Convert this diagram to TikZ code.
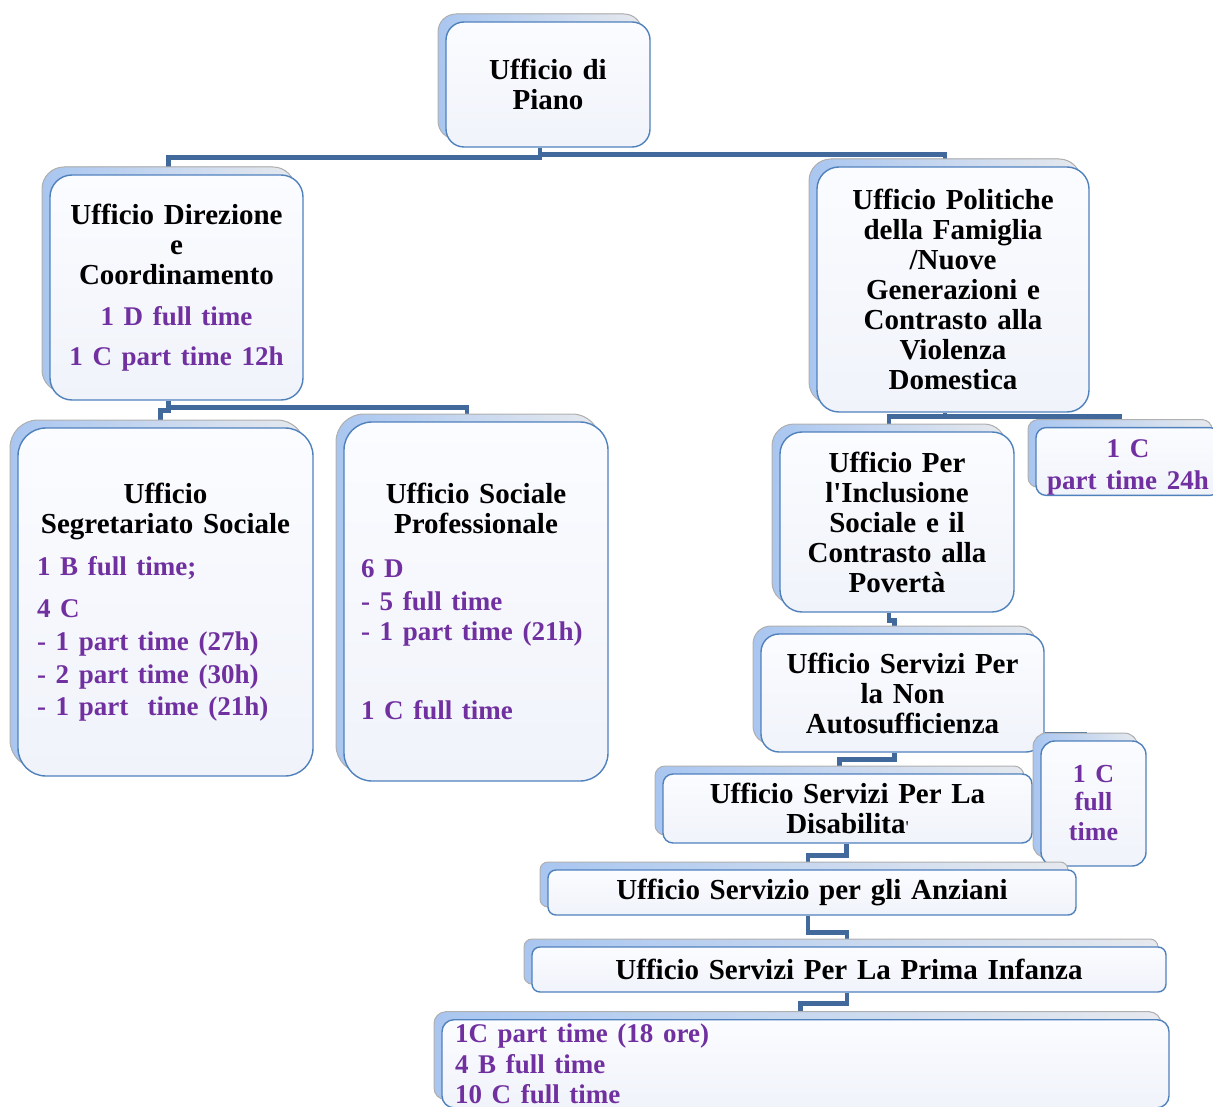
\documentclass[tikz,border=0pt]{standalone}
\usepackage{fontspec}
\setmainfont{Liberation Serif}
\usetikzlibrary{shadows,backgrounds}
\setlength{\parindent}{0pt}

\definecolor{cardedge}{HTML}{4F81BD}
\definecolor{cardtop}{HTML}{FBFCFF}
\definecolor{cardbottom}{HTML}{F0F3FA}
\definecolor{backblue}{HTML}{A9C6F0}
\definecolor{backgrey}{HTML}{E6E9EE}
\definecolor{backedge}{HTML}{B0B0B0}
\definecolor{linkblue}{HTML}{41699B}
\definecolor{staffviolet}{HTML}{7030A0}

\newcommand{\staff}{\color{staffviolet}\fontsize{27}{30}\selectfont}

\tikzset{
  ufficio/.style={draw=cardedge, line width=1.4pt, rounded corners=#1,
    top color=cardtop, bottom color=cardbottom, inner sep=0pt,
    copy shadow={shadow xshift=-8pt, shadow yshift=8pt, left color=backblue,
      right color=backgrey, draw=backedge, line width=1pt}},
  ufficio/.default=20pt,
  link/.style={draw=linkblue, line width=4.5pt}
}

\begin{document}
\begin{tikzpicture}[x=1pt, y=-1pt,
  every node/.style={font=\bfseries\fontsize{29}{30}\selectfont}
]
\useasboundingbox (0,0) rectangle (1213,1107);

% top and first level:
\node[ufficio=18pt, minimum width=204pt, minimum height=125pt, text width=180pt, align=center] (piano) at (548,84.5) {Ufficio di\\Piano};
\node[ufficio=22pt, minimum width=253pt, minimum height=225pt, text width=240pt, align=center] (direz) at (176.5,287.5)
  {Ufficio Direzione\\e\\Coordinamento\\[11pt]{\staff 1 D full time\\[10pt]1 C part time 12h}};
\node[ufficio=22pt, minimum width=272pt, minimum height=245pt, text width=250pt, align=center] (polit) at (953,289.5)
  {Ufficio Politiche\\della Famiglia\\/Nuove\\Generazioni e\\Contrasto alla\\Violenza\\Domestica};

% left branch
\node[ufficio=28pt, minimum width=295pt, minimum height=348pt, text width=257pt] (segr) at (165.5,602)
  {{\centering Ufficio\\Segretariato Sociale\par}\vspace{12pt}
   {\staff 1 B full time;\\[12pt]4 C\\[3pt]- 1 part time (27h)\\[3pt]- 2 part time (30h)\\[2pt]- 1 part\ \ time (21h)\par}};
\node[ufficio=28pt, minimum width=264pt, minimum height=359pt, text width=230pt] (socprof) at (476,601.5)
  {{\centering Ufficio Sociale\\Professionale\par}\vspace{14pt}
   {\staff 6 D\\[3pt]- 5 full time\\- 1 part time (21h)\\[49pt]1 C full time\par}};

% right branch
\node[ufficio=22pt, minimum width=234pt, minimum height=180pt, text width=220pt, align=center] (incl) at (897,522)
  {Ufficio Per\\l\textquotesingle Inclusione\\Sociale e il\\Contrasto alla\\Povert\`a};
\node[ufficio=10pt, minimum width=184pt, minimum height=65pt, text width=180pt, align=center] (c24) at (1128,461.5)
  {\staff\rule{0pt}{30pt}1 C\\[2pt]part time 24h};
\node[ufficio=18pt, minimum width=283pt, minimum height=118pt, text width=260pt, align=center] (nonauto) at (902.5,693)
  {Ufficio Servizi Per\\la Non\\Autosufficienza};
\node[ufficio=10pt, minimum width=369pt, minimum height=69pt, text width=340pt, align=center] (disab) at (847.5,808.5)
  {Ufficio Servizi Per La\\Disabilita{\mdseries\fontsize{18}{20}\selectfont\textquotesingle}};
\node[ufficio=14pt, minimum width=105pt, minimum height=125pt, text width=90pt, align=center] (cfull) at (1093.5,803.5)
  {\color{staffviolet}\fontsize{26}{28}\selectfont 1 C\\full\\time};
\node[ufficio=8pt, minimum width=528pt, minimum height=45pt, text width=500pt, align=center] (anz) at (812,892.5)
  {Ufficio Servizio per gli Anziani};
\node[ufficio=8pt, minimum width=634pt, minimum height=45pt, text width=600pt, align=center] (infanza) at (849,969.5)
  {Ufficio Servizi Per La Prima Infanza};
\node[ufficio=12pt, anchor=north, inner xsep=13pt, inner ysep=4pt, text width=701pt, align=left] (infstaff) at (805.5,1019)
  {\staff 1C part time (18 ore)\\[1pt]4 B full time\\[0pt]10 C full time};

\begin{scope}[on background layer]
  \draw[link] ([xshift=-8pt]piano.south) -- ++(0,10) -| ([xshift=-8pt]direz.north);
  \draw[link] ([xshift=-8pt]piano.south) -- ++(0,7) -| ([xshift=-8pt]polit.north);
  \draw[link] ([xshift=-8pt]direz.south) -- ++(0,10) -| ([xshift=-5pt]segr.north);
  \draw[link] ([xshift=-8pt]direz.south) -- ++(0,7) -| ([xshift=-9pt]socprof.north);
  \draw[link] ([xshift=-8pt]polit.south) -- ++(0,4) -| ([xshift=-8pt]incl.north);
  \draw[link] ([xshift=-8pt]polit.south) -- ++(0,4) -| ([xshift=-8pt]c24.north);
  \draw[link, line width=3pt] ([yshift=19pt]nonauto.south east) -| ([xshift=-8pt]cfull.north);
  % the chain down to the staff box
  \foreach \a/\b/\sa/\sb/\d in {incl/nonauto/-8/-8/8, nonauto/disab/-8/-8/7, disab/anz/-1/-4/12,
      anz/infanza/-4/-2/17, infanza/infstaff/-2/-5/11} {
    \draw[link] ([xshift=\sa pt]\a.south) -- ++(0,\d) -| ([xshift=\sb pt]\b.north);
  }
\end{scope}
\end{tikzpicture}
\end{document}
